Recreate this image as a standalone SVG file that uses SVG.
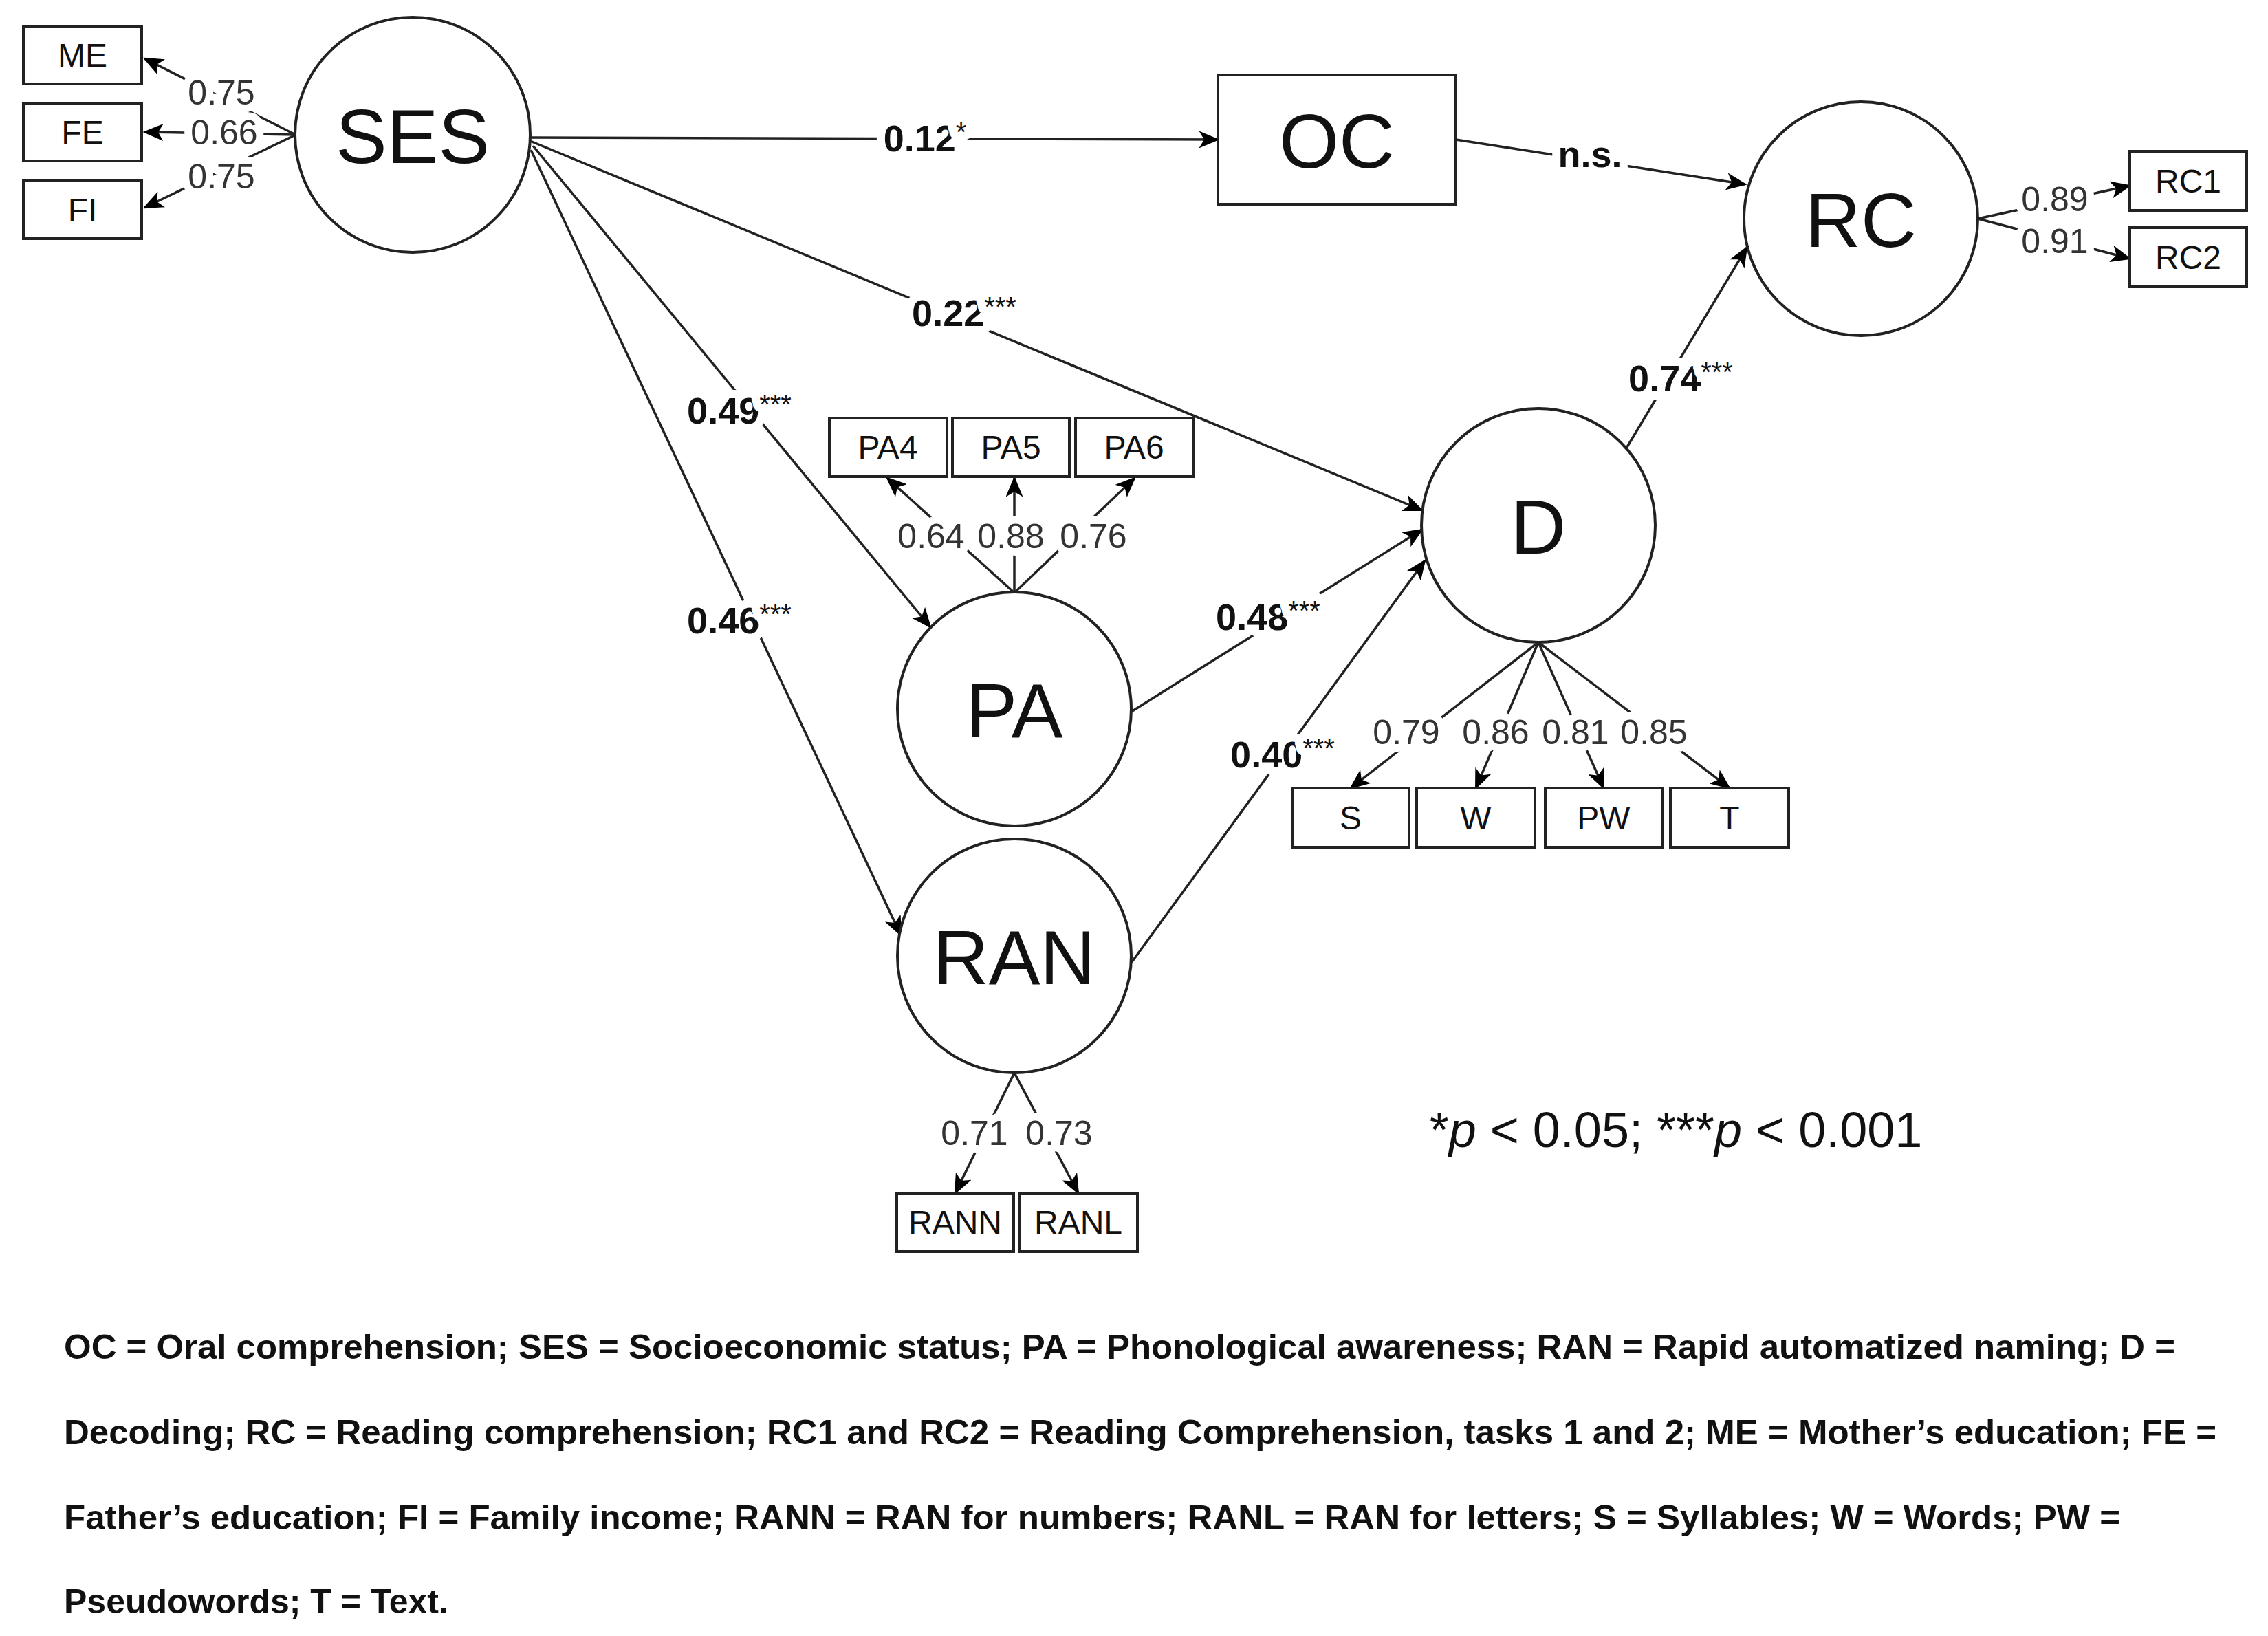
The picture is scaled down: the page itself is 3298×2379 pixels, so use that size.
<svg xmlns="http://www.w3.org/2000/svg" width="3298" height="2379" viewBox="0 0 3298 2379">
<defs>
<marker id="ar2" viewBox="0 0 12 10" refX="11" refY="5" markerWidth="30" markerHeight="25" markerUnits="userSpaceOnUse" orient="auto"><path d="M0,0 L12,5 L0,10 L3,5 Z" fill="#000"/></marker>
</defs>
<style>
text{font-family:"Liberation Sans",Arial,sans-serif;fill:#111}
.n{fill:#fff;stroke:#222;stroke-width:4}
.b{fill:#fff;stroke:#222;stroke-width:4}
.big{font-size:112px;text-anchor:middle}
.sm{font-size:48px;text-anchor:middle}
.ld{font-size:50px;text-anchor:middle;fill:#333;stroke:#fff;stroke-width:22px;paint-order:stroke;stroke-linejoin:round}
.cf{font-size:54px;font-weight:bold;text-anchor:middle;stroke:#fff;stroke-width:24px;paint-order:stroke;stroke-linejoin:round}
.st{font-size:40px;font-weight:normal}
.e{fill:none;stroke:#222;stroke-width:3.5}
.leg{font-size:50px;font-weight:bold}
</style>
<rect width="3298" height="2379" fill="#fff"/>
<g id="connectors">
<line class="e" x1="430" y1="196" x2="210" y2="85" marker-end="url(#ar2)"/>
<line class="e" x1="430" y1="196" x2="210" y2="192" marker-end="url(#ar2)"/>
<line class="e" x1="430" y1="196" x2="210" y2="302" marker-end="url(#ar2)"/>
<line class="e" x1="771" y1="200" x2="1771" y2="203" marker-end="url(#ar2)"/>
<line class="e" x1="771" y1="205" x2="2068" y2="742" marker-end="url(#ar2)"/>
<line class="e" x1="775" y1="212" x2="1353" y2="912" marker-end="url(#ar2)"/>
<line class="e" x1="772" y1="218" x2="1310" y2="1360" marker-end="url(#ar2)"/>
<line class="e" x1="1645" y1="1035" x2="2068" y2="770" marker-end="url(#ar2)"/>
<line class="e" x1="1645" y1="1400" x2="2072" y2="815" marker-end="url(#ar2)"/>
<line class="e" x1="2117" y1="203" x2="2538" y2="268" marker-end="url(#ar2)"/>
<line class="e" x1="2357" y1="665" x2="2540" y2="360" marker-end="url(#ar2)"/>
<line class="e" x1="2876" y1="318" x2="3097" y2="270" marker-end="url(#ar2)"/>
<line class="e" x1="2876" y1="318" x2="3097" y2="376" marker-end="url(#ar2)"/>
<line class="e" x1="1475" y1="862" x2="1290" y2="695" marker-end="url(#ar2)"/>
<line class="e" x1="1475" y1="862" x2="1475" y2="695" marker-end="url(#ar2)"/>
<line class="e" x1="1475" y1="862" x2="1650" y2="695" marker-end="url(#ar2)"/>
<line class="e" x1="2237" y1="934" x2="1964" y2="1146" marker-end="url(#ar2)"/>
<line class="e" x1="2237" y1="934" x2="2146" y2="1146" marker-end="url(#ar2)"/>
<line class="e" x1="2237" y1="934" x2="2332" y2="1146" marker-end="url(#ar2)"/>
<line class="e" x1="2237" y1="934" x2="2515" y2="1146" marker-end="url(#ar2)"/>
<line class="e" x1="1475" y1="1560" x2="1389" y2="1735" marker-end="url(#ar2)"/>
<line class="e" x1="1475" y1="1560" x2="1568" y2="1735" marker-end="url(#ar2)"/>
<text class="ld" x="322" y="152">0.75</text>
<text class="ld" x="326" y="210">0.66</text>
<text class="ld" x="322" y="274">0.75</text>
<text class="cf" x="1345" y="220">0.12<tspan class="st" dy="-14">*</tspan></text>
<text class="cf" x="1402" y="474">0.22<tspan class="st" dy="-14">***</tspan></text>
<text class="cf" x="1075" y="616">0.49<tspan class="st" dy="-14">***</tspan></text>
<text class="cf" x="1075" y="921">0.46<tspan class="st" dy="-14">***</tspan></text>
<text class="cf" x="1844" y="916">0.48<tspan class="st" dy="-14">***</tspan></text>
<text class="cf" x="1865" y="1116">0.40<tspan class="st" dy="-14">***</tspan></text>
<text class="cf" x="2312" y="243">n.s.</text>
<text class="cf" x="2444" y="569">0.74<tspan class="st" dy="-14">***</tspan></text>
<text class="ld" x="2988" y="307">0.89</text>
<text class="ld" x="2988" y="368">0.91</text>
<text class="ld" x="1354" y="797">0.64</text>
<text class="ld" x="1470" y="797">0.88</text>
<text class="ld" x="1590" y="797">0.76</text>
<text class="ld" x="2045" y="1082">0.79</text>
<text class="ld" x="2175" y="1082">0.86</text>
<text class="ld" x="2291" y="1082">0.81</text>
<text class="ld" x="2405" y="1082">0.85</text>
<text class="ld" x="1417" y="1665">0.71</text>
<text class="ld" x="1540" y="1665">0.73</text>
</g>
<g id="ME"><rect class="b" x="34" y="38" width="172" height="84"/><text class="sm" x="120" y="97">ME</text></g>
<g id="FE"><rect class="b" x="34" y="150" width="172" height="84"/><text class="sm" x="120" y="209">FE</text></g>
<g id="FI"><rect class="b" x="34" y="263" width="172" height="84"/><text class="sm" x="120" y="322">FI</text></g>
<g id="SES"><circle class="n" cx="600" cy="196" r="171"/><text class="big" x="600" y="237">SES</text></g>
<g id="OC"><rect class="b" x="1771" y="109" width="346" height="188"/><text class="big" x="1944" y="244">OC</text></g>
<g id="RC"><circle class="n" cx="2706" cy="318" r="170"/><text class="big" x="2706" y="359">RC</text></g>
<g id="RC1"><rect class="b" x="3097" y="220" width="170" height="86"/><text class="sm" x="3182" y="280">RC1</text></g>
<g id="RC2"><rect class="b" x="3097" y="331" width="170" height="86"/><text class="sm" x="3182" y="391">RC2</text></g>
<g id="D"><circle class="n" cx="2237" cy="764" r="170"/><text class="big" x="2237" y="805">D</text></g>
<g id="S"><rect class="b" x="1879" y="1146" width="170" height="86"/><text class="sm" x="1964" y="1206">S</text></g>
<g id="W"><rect class="b" x="2060" y="1146" width="172" height="86"/><text class="sm" x="2146" y="1206">W</text></g>
<g id="PW"><rect class="b" x="2247" y="1146" width="171" height="86"/><text class="sm" x="2332" y="1206">PW</text></g>
<g id="T"><rect class="b" x="2429" y="1146" width="172" height="86"/><text class="sm" x="2515" y="1206">T</text></g>
<g id="PA"><circle class="n" cx="1475" cy="1031" r="170"/><text class="big" x="1475" y="1072">PA</text></g>
<g id="PA4"><rect class="b" x="1206" y="608" width="171" height="85"/><text class="sm" x="1291" y="667">PA4</text></g>
<g id="PA5"><rect class="b" x="1385" y="608" width="170" height="85"/><text class="sm" x="1470" y="667">PA5</text></g>
<g id="PA6"><rect class="b" x="1564" y="608" width="171" height="85"/><text class="sm" x="1649" y="667">PA6</text></g>
<g id="RAN"><circle class="n" cx="1475" cy="1390" r="170"/><text class="big" x="1475" y="1431">RAN</text></g>
<g id="RANN"><rect class="b" x="1304" y="1735" width="170" height="85"/><text class="sm" x="1389" y="1794">RANN</text></g>
<g id="RANL"><rect class="b" x="1483" y="1735" width="171" height="85"/><text class="sm" x="1568" y="1794">RANL</text></g>
<text x="2437" y="1668" font-size="72" text-anchor="middle">*<tspan font-style="italic">p</tspan> &lt; 0.05; ***<tspan font-style="italic">p</tspan> &lt; 0.001</text>
<text class="leg" x="93" y="1976" textLength="3070" lengthAdjust="spacingAndGlyphs">OC = Oral comprehension; SES = Socioeconomic status; PA = Phonological awareness; RAN = Rapid automatized naming; D =</text>
<text class="leg" x="93" y="2100" textLength="3130" lengthAdjust="spacingAndGlyphs">Decoding; RC = Reading comprehension; RC1 and RC2 = Reading Comprehension, tasks 1 and 2; ME = Mother’s education; FE =</text>
<text class="leg" x="93" y="2224" textLength="2990" lengthAdjust="spacingAndGlyphs">Father’s education; FI = Family income; RANN = RAN for numbers; RANL = RAN for letters; S = Syllables; W = Words; PW =</text>
<text class="leg" x="93" y="2346">Pseudowords; T = Text.</text>
</svg>
